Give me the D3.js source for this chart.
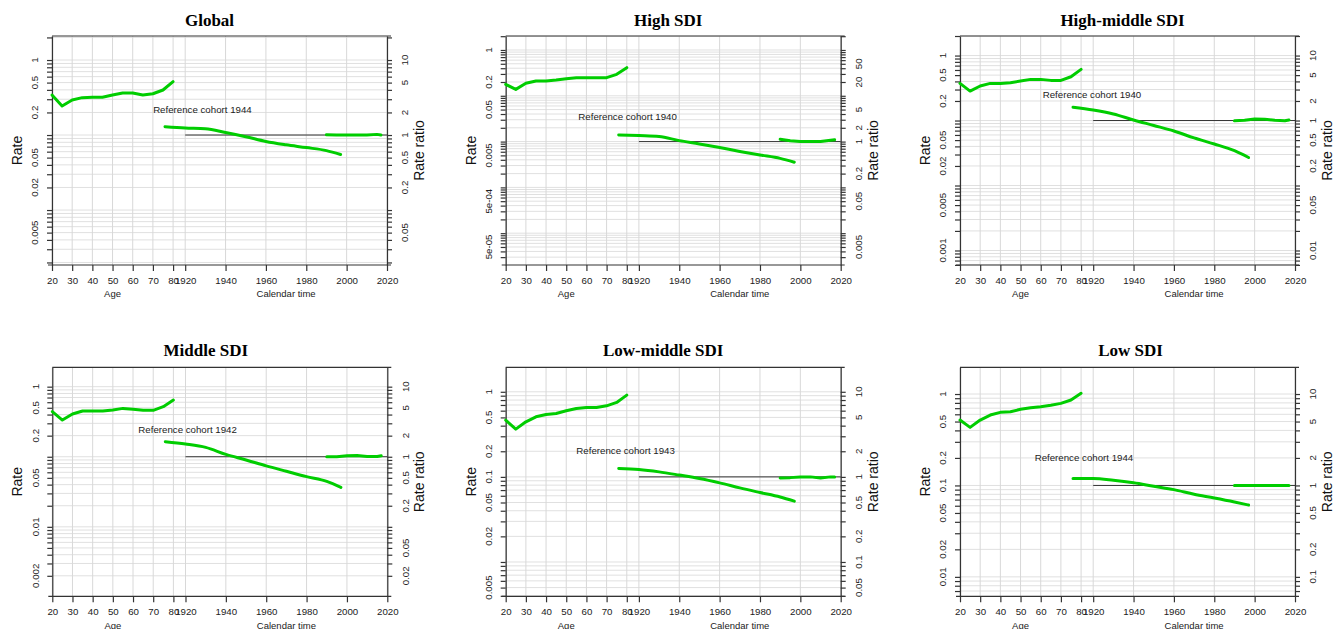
<!DOCTYPE html>
<html><head><meta charset="utf-8">
<script src="https://cdn.jsdelivr.net/npm/d3@7"></script>
<style>body{margin:0;background:#fff} svg{display:block}</style>
</head><body>
<svg id="c" width="1334" height="629"></svg>
<script>
// ---------- data ----------
const titles = ["Global", "High SDI", "High-middle SDI", "Middle SDI", "Low-middle SDI", "Low SDI"];
const refCohorts = [1944, 1940, 1940, 1942, 1943, 1944];

const ages = [20, 25, 30, 35, 40, 45, 50, 55, 60, 65, 70, 75, 80];
const cohortYears = [1910, 1920, 1930, 1940, 1950, 1960, 1970, 1980, 1990, 1997];
const periodYears = [1990, 1995, 2000, 2005, 2010, 2015, 2017];

const globalAge    = [0.341, 0.244, 0.293, 0.315, 0.318, 0.318, 0.341, 0.363, 0.363, 0.341, 0.355, 0.398, 0.514];
const globalCohort = [1.29, 1.24, 1.21, 1.08, 0.95, 0.82, 0.74, 0.68, 0.62, 0.55];
const globalPeriod = [1.01, 1.0, 1.0, 1.0, 1.0, 1.02, 1.0];

const highAge    = [0.178, 0.138, 0.187, 0.21, 0.21, 0.221, 0.236, 0.249, 0.249, 0.249, 0.249, 0.294, 0.411];
const highCohort = [1.40, 1.35, 1.29, 1.05, 0.89, 0.74, 0.61, 0.51, 0.43, 0.355];
const highPeriod = [1.13, 1.04, 1.0, 1.0, 1.0, 1.07, 1.1];

const highMidAge    = [0.373, 0.284, 0.34, 0.373, 0.373, 0.382, 0.405, 0.43, 0.43, 0.415, 0.415, 0.472, 0.613];
const highMidCohort = [1.6, 1.45, 1.26, 1.02, 0.84, 0.69, 0.54, 0.435, 0.343, 0.27];
const highMidPeriod = [0.99, 1.01, 1.06, 1.05, 1.01, 0.99, 1.02];

const middleAge    = [0.44, 0.334, 0.407, 0.45, 0.45, 0.45, 0.465, 0.49, 0.475, 0.46, 0.46, 0.518, 0.645];
const middleCohort = [1.64, 1.52, 1.36, 1.08, 0.9, 0.74, 0.62, 0.52, 0.445, 0.365];
const middlePeriod = [1.0, 1.0, 1.03, 1.04, 1.01, 1.01, 1.03];

const lowMidAge    = [0.464, 0.364, 0.444, 0.508, 0.542, 0.556, 0.598, 0.637, 0.655, 0.655, 0.684, 0.75, 0.914];
const lowMidCohort = [1.255, 1.22, 1.145, 1.05, 0.957, 0.85, 0.742, 0.655, 0.58, 0.518];
const lowMidPeriod = [0.97, 0.98, 1.0, 1.0, 0.97, 1.0, 1.0];

const lowAge    = [0.519, 0.432, 0.519, 0.589, 0.63, 0.64, 0.68, 0.708, 0.726, 0.752, 0.79, 0.86, 1.02];
const lowCohort = [1.19, 1.19, 1.14, 1.07, 0.98, 0.9, 0.8, 0.73, 0.66, 0.61];
const lowPeriod = [1.0, 1.0, 1.0, 1.0, 1.0, 1.0, 1.0];

// axis ranges (rate at top / bottom of panel) and rate-ratio factor
const rateRanges = [[2.09, 0.00185], [2.02, 2.02e-5], [2.0, 5.98e-4], [1.89, 1.02e-3], [1.94, 3.95e-3], [1.96, 6.13e-3]];
const rrFactors = [10, 100, 10, 10, 10, 10];

// tick labels
const rateLabels = [
  [1, 0.5, 0.2, 0.05, 0.02, 0.005],
  [1, 0.2, 0.05, 0.005, 5e-4, 5e-5],
  [1, 0.5, 0.2, 0.05, 0.02, 0.005, 0.001],
  [1, 0.5, 0.2, 0.05, 0.01, 0.002],
  [1, 0.5, 0.2, 0.1, 0.05, 0.02, 0.005],
  [1, 0.5, 0.2, 0.1, 0.05, 0.02, 0.01]
];
const rrLabels = [
  [10, 5, 2, 1, 0.5, 0.2, 0.05],
  [50, 20, 5, 2, 1, 0.2, 0.05, 0.005],
  [10, 5, 2, 1, 0.5, 0.2, 0.05, 0.01],
  [10, 5, 2, 1, 0.5, 0.2, 0.05, 0.02],
  [10, 5, 2, 1, 0.5, 0.2, 0.1, 0.05],
  [10, 5, 2, 1, 0.5, 0.2, 0.1]
];
const ageTicks = [20, 30, 40, 50, 60, 70, 80];
const calTicks = [1920, 1940, 1960, 1980, 2000, 2020];

const ageSeries = [globalAge, highAge, highMidAge, middleAge, lowMidAge, lowAge];
const cohortSeries = [globalCohort, highCohort, highMidCohort, middleCohort, lowMidCohort, lowCohort];
const periodSeries = [globalPeriod, highPeriod, highMidPeriod, middlePeriod, lowMidPeriod, lowPeriod];

// ---------- layout ----------
const lefts = [52, 505.7, 960, 52.3, 505.7, 960];
const tops = [36, 36, 36, 367.3, 367.3, 367.3];
const titleDx = [-10, -5, -5, -14, -10, 3];
const titleDy = [-10, -10, -10, -11.5, -11.5, -11.5];
const refPos = [[0.449, 0.323], [0.364, 0.352], [0.394, 0.255], [0.404, 0.272], [0.358, 0.364], [0.37, 0.396]];
const PW = 335, PH = 229;

const SANS = "'Liberation Sans', Arial, sans-serif";
const GREEN = "#00cd00";
const svg = d3.select("#c");

function fmt(v) {
  if (v < 0.001) {
    const [m, e] = v.toExponential().split("e");
    const n = Math.abs(+e);
    return m + "e" + (+e < 0 ? "-" : "+") + (n < 10 ? "0" + n : n);
  }
  return String(v);
}
function logTicks(lo, hi) {
  const out = [];
  for (let k = Math.floor(Math.log10(lo)) - 1; k <= Math.ceil(Math.log10(hi)); k++)
    for (let m = 1; m <= 9; m++) {
      const v = +(m * Math.pow(10, k)).toPrecision(6);
      if (v >= lo * 0.9999 && v <= hi * 1.0001) out.push(v);
    }
  return out;
}

titles.forEach((title, i) => {
  const L = lefts[i], T = tops[i], R = L + PW, B = T + PH;
  const k = PW / 166;
  const xAge = d3.scaleLinear().domain([20, 80]).range([L, L + 60 * k]);
  const xCal = d3.scaleLinear().domain([1920, 2020]).range([L + 66 * k, R]);
  const yRate = d3.scaleLog().domain(rateRanges[i]).range([T, B]);
  const rrDom = rateRanges[i].map(v => v * rrFactors[i]);
  const yRR = d3.scaleLog().domain(rrDom).range([T, B]);
  const g = svg.append("g");

  // grid
  const rTicks = logTicks(rateRanges[i][1], rateRanges[i][0]);
  const rrTicks = logTicks(rrDom[1], rrDom[0]);
  g.append("g").selectAll("line").data(rTicks).join("line")
    .attr("x1", L).attr("x2", R).attr("y1", d => yRate(d)).attr("y2", d => yRate(d))
    .attr("stroke", "#e0e0e0").attr("stroke-width", 1);
  const vgrid = ageTicks.map(a => xAge(a)).concat(calTicks.map(c => xCal(c)));
  g.append("g").selectAll("line").data(vgrid).join("line")
    .attr("x1", d => d).attr("x2", d => d).attr("y1", T).attr("y2", B)
    .attr("stroke", "#d8d8d8").attr("stroke-width", 1);

  // left axis
  const la = g.append("g").attr("transform", `translate(${L},0)`)
    .call(d3.axisLeft(yRate).tickValues(rTicks).tickFormat("").tickSize(5).tickSizeOuter(0));
  la.selectAll("line,path").attr("stroke", "#333").attr("stroke-width", 1.2);
  rateLabels[i].forEach(v => {
    g.append("text").attr("transform", `translate(${L - 17},${yRate(v)}) rotate(-90)`)
      .attr("text-anchor", "middle").attr("dy", "0.35em")
      .style("font", `9.7px ${SANS}`).attr("fill", "#222").text(fmt(v));
  });
  // right axis
  const ra = g.append("g").attr("transform", `translate(${R},0)`)
    .call(d3.axisRight(yRR).tickValues(rrTicks).tickFormat("").tickSize(5).tickSizeOuter(0));
  ra.selectAll("line,path").attr("stroke", "#333").attr("stroke-width", 1.2);
  rrLabels[i].forEach(v => {
    g.append("text").attr("transform", `translate(${R + 18},${yRR(v)}) rotate(-90)`)
      .attr("text-anchor", "middle").attr("dy", "0.35em")
      .style("font", `9.7px ${SANS}`).attr("fill", "#222").text(fmt(v));
  });

  // bottom axes
  const ba = g.append("g").attr("transform", `translate(0,${B})`)
    .call(d3.axisBottom(xAge).tickValues(ageTicks).tickSize(6).tickPadding(6).tickSizeOuter(0));
  const bc = g.append("g").attr("transform", `translate(0,${B})`)
    .call(d3.axisBottom(xCal).tickValues(calTicks).tickFormat(d3.format("d")).tickSize(6).tickPadding(6).tickSizeOuter(0));
  [ba, bc].forEach(a => {
    a.select(".domain").remove();
    a.selectAll("line").attr("stroke", "#333").attr("stroke-width", 1.2);
    a.selectAll("text").style("font", `9.7px ${SANS}`).attr("fill", "#222");
  });
  // frame top & bottom
  g.append("line").attr("x1", L - 4).attr("x2", R + 4).attr("y1", B).attr("y2", B)
    .attr("stroke", "#333").attr("stroke-width", 1.2);
  g.append("line").attr("x1", L).attr("x2", R + 4).attr("y1", T).attr("y2", T)
    .attr("stroke", "#333").attr("stroke-width", 1.2);

  // axis titles
  g.append("text").attr("x", xAge(50)).attr("y", B + 29).attr("dy", "0.35em")
    .attr("text-anchor", "middle").style("font", `9.5px ${SANS}`).attr("fill", "#222").text("Age");
  g.append("text").attr("x", xCal(1970)).attr("y", B + 29).attr("dy", "0.35em")
    .attr("text-anchor", "middle").style("font", `9.5px ${SANS}`).attr("fill", "#222").text("Calendar time");
  g.append("text").attr("transform", `translate(${L - 35},${T + PH / 2}) rotate(-90)`)
    .attr("text-anchor", "middle").attr("dy", "0.35em")
    .style("font", `14px ${SANS}`).attr("fill", "#111").text("Rate");
  g.append("text").attr("transform", `translate(${R + 32},${T + PH / 2}) rotate(-90)`)
    .attr("text-anchor", "middle").attr("dy", "0.35em")
    .style("font", `14px ${SANS}`).attr("fill", "#111").text("Rate ratio");

  // title
  g.append("text").attr("x", (L + R) / 2 + titleDx[i]).attr("y", T + titleDy[i])
    .attr("text-anchor", "middle")
    .style("font", `bold 17px 'Liberation Serif', 'Times New Roman', serif`).attr("fill", "#000").text(title);

  // reference line
  g.append("line").attr("x1", xCal(1920)).attr("x2", xCal(2020)).attr("y1", yRR(1)).attr("y2", yRR(1))
    .attr("stroke", "#333").attr("stroke-width", 1);

  // curves
  const lineAge = d3.line().x((d, j) => xAge(ages[j])).y(d => yRate(d));
  const lineCoh = d3.line().x((d, j) => xCal(cohortYears[j])).y(d => yRR(d)).curve(d3.curveMonotoneX);
  const linePer = d3.line().x((d, j) => xCal(periodYears[j])).y(d => yRR(d));
  [[lineAge, ageSeries[i]], [lineCoh, cohortSeries[i]], [linePer, periodSeries[i]]].forEach(([ln, data]) => {
    g.append("path").attr("d", ln(data)).attr("fill", "none")
      .attr("stroke", GREEN).attr("stroke-width", 3).attr("stroke-linejoin", "round").attr("stroke-linecap", "round");
  });

  // reference cohort label
  g.append("text").attr("x", L + refPos[i][0] * PW).attr("y", T + refPos[i][1] * PH).attr("dy", "0.35em")
    .attr("text-anchor", "middle").style("font", `9.7px ${SANS}`).attr("fill", "#222")
    .text("Reference cohort " + refCohorts[i]);
});
</script>
</body></html>
